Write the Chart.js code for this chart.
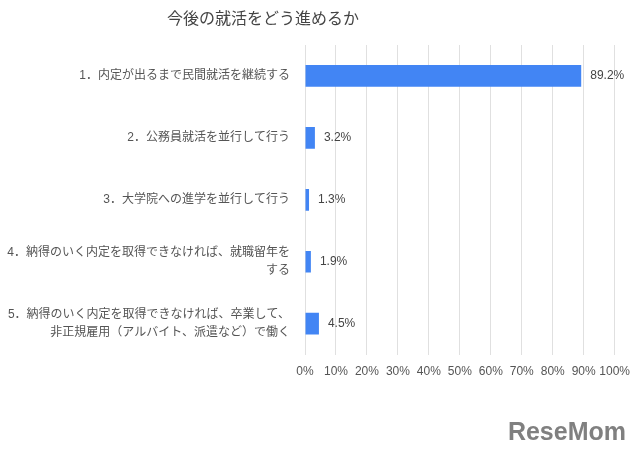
<!DOCTYPE html>
<html lang="ja">
<head>
  <meta charset="UTF-8">
  <title>今後の就活をどう進めるか</title>
  <script src="https://cdn.jsdelivr.net/npm/chart.js"></script>
  <style>
    body {
      margin: 0;
      background: #fff;
    }
    .chart-box {
      width: 640px;
      height: 455px;
    }
  </style>
</head>
<body>
  <div class="chart-box">
    <canvas id="shukatsuChart"></canvas>
  </div>

  <script>
    // データ
    const chartTitle = '今後の就活をどう進めるか';
    const categories = [
      '1．内定が出るまで民間就活を継続する',
      '2．公務員就活を並行して行う',
      '3．大学院への進学を並行して行う',
      ['4．納得のいく内定を取得できなければ、就職留年を', 'する'],
      ['5．納得のいく内定を取得できなければ、卒業して、', '非正規雇用（アルバイト、派遣など）で働く']
    ];
    const percentages = [89.2, 3.2, 1.3, 1.9, 4.5];
    const xTicks = [0, 10, 20, 30, 40, 50, 60, 70, 80, 90, 100];

    const fontFamily = '"Liberation Sans", Arial, "Noto Sans CJK JP", sans-serif';

    // バーの右側に値を表示
    const valueLabels = {
      id: 'valueLabels',
      afterDatasetsDraw(chart) {
        const ctx = chart.ctx;
        const meta = chart.getDatasetMeta(0);
        ctx.save();
        ctx.font = '12px ' + fontFamily;
        ctx.fillStyle = '#444';
        ctx.textAlign = 'left';
        ctx.textBaseline = 'middle';
        meta.data.forEach((bar, i) => {
          ctx.fillText(percentages[i].toFixed(1) + '%', bar.x + 9, bar.y);
        });
        ctx.restore();
      }
    };

    // タイトルとロゴ
    const extraText = {
      id: 'extraText',
      afterDraw(chart) {
        const ctx = chart.ctx;
        ctx.save();
        ctx.font = '16px "Noto Sans CJK JP", sans-serif';
        ctx.fillStyle = '#444';
        ctx.textAlign = 'center';
        ctx.textBaseline = 'middle';
        ctx.fillText(chartTitle, 263, 18);

        ctx.font = 'bold 25px "Liberation Sans", sans-serif';
        ctx.fillStyle = '#808080';
        ctx.textAlign = 'right';
        ctx.fillText('ReseMom', 626, 433);
        ctx.restore();
      }
    };

    new Chart(document.getElementById('shukatsuChart'), {
      type: 'bar',
      data: {
        labels: categories,
        datasets: [{
          data: percentages,
          backgroundColor: '#4285f4',
          borderWidth: 0,
          categoryPercentage: 1,
          barPercentage: 0.35
        }]
      },
      options: {
        indexAxis: 'y',
        responsive: true,
        maintainAspectRatio: false,
        animation: false,
        layout: {
          padding: { top: 45, right: 5, bottom: 66, left: 0 }
        },
        plugins: {
          legend: { display: false },
          tooltip: { enabled: false }
        },
        scales: {
          x: {
            min: 0,
            max: 100,
            afterBuildTicks(axis) {
              axis.ticks = xTicks.map(v => ({ value: v }));
            },
            grid: {
              color: '#e0e0e0',
              drawTicks: false
            },
            border: { display: false },
            ticks: {
              padding: 10,
              maxRotation: 0,
              minRotation: 0,
              autoSkip: false,
              color: '#555',
              font: { size: 12, family: fontFamily },
              callback: v => v + '%'
            }
          },
          y: {
            afterFit(axis) {
              axis.width = 305;
            },
            grid: { display: false },
            border: { display: false },
            ticks: {
              padding: 7,
              color: '#555',
              font: { size: 12, family: fontFamily, lineHeight: 1.5 }
            }
          }
        }
      },
      plugins: [valueLabels, extraText]
    });
  </script>
</body>
</html>
